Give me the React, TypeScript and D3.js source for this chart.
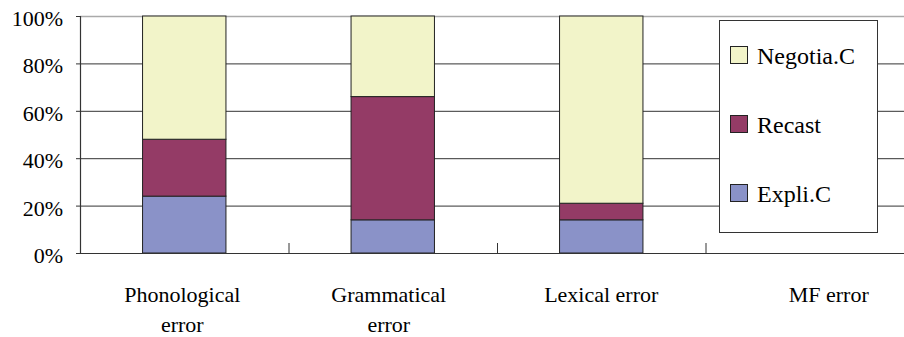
import React from "react";
import * as d3 from "d3";

const categories = ["Phonological error", "Grammatical error", "Lexical error", "MF error"];
const categoryLines = [["Phonological", "error"], ["Grammatical", "error"], ["Lexical error"], ["MF error"]];
const expliC = [24, 14, 14, 0];
const recast = [24, 52, 7, 0];
const negotiaC = [52, 34, 79, 0];
const seriesNames = ["Expli.C", "Recast", "Negotia.C"];
const seriesColors = ["#8A92C8", "#943B66", "#F2F4C9"];
const yTicks = [0, 20, 40, 60, 80, 100];

const W = 904;
const H = 337;
const left = 80;
const top = 16;
const bottom = 253;
const right = 914;

export default function App() {
  const x = d3.scaleBand().domain(categories).range([left, right]).padding(0);
  const y = d3.scaleLinear().domain([0, 100]).range([bottom, top]);
  const rows = categories.map((c, i) => ({ cat: c, e: expliC[i], r: recast[i], n: negotiaC[i] }));
  const stack = d3.stack<any>().keys(["e", "r", "n"])(rows);
  const bw = x.bandwidth();
  const barW = bw * 0.4;
  const legendOrder = [2, 1, 0];
  const legendY = [55, 124, 193];
  const xLabelOffset = [-2, -4, 0, 19];

  return (
    <svg width={W} height={H} style={{ position: "absolute", left: 0, top: 0 }}>
      <rect x={0} y={0} width={W} height={H} fill="#ffffff" />
      {yTicks.filter((t) => t > 0 && t < 100).map((t) => (
        <line key={t} x1={left} x2={right} y1={y(t) + 0.5} y2={y(t) + 0.5} stroke="#333" strokeWidth={1} />
      ))}
      <line x1={left} x2={right} y1={y(100) + 0.5} y2={y(100) + 0.5} stroke="#aaa" strokeWidth={1.5} />
      {stack.map((s, si) =>
        s.map((d, i) =>
          d[1] - d[0] > 0 ? (
            <rect
              key={si + "-" + i}
              x={(x(categories[i]) as number) + bw / 2 - barW / 2}
              y={y(d[1])}
              width={barW}
              height={y(d[0]) - y(d[1])}
              fill={seriesColors[si]}
              stroke="#222"
              strokeWidth={1}
            />
          ) : null
        )
      )}
      <line x1={left + 0.5} x2={left + 0.5} y1={top} y2={bottom} stroke="#333" strokeWidth={1.2} />
      <line x1={left} x2={right} y1={bottom + 0.5} y2={bottom + 0.5} stroke="#333" strokeWidth={1.2} />
      {yTicks.map((t) => (
        <line key={"tk" + t} x1={left - 4} x2={left} y1={y(t) + 0.5} y2={y(t) + 0.5} stroke="#333" />
      ))}
      {yTicks.map((t) => (
        <text key={"yl" + t} x={63} y={y(t) + 10} textAnchor="end" fontSize={22} style={{ fontFamily: '"Liberation Serif"' }}>
          {t + "%"}
        </text>
      ))}
      {categories.slice(1).map((c) => (
        <line key={c} x1={(x(c) as number) + 0.5} x2={(x(c) as number) + 0.5} y1={bottom - 10} y2={bottom} stroke="#333" />
      ))}
      {categories.map((c, i) =>
        categoryLines[i].map((ln, j) => (
          <text
            key={c + j}
            x={(x(c) as number) + bw / 2 + xLabelOffset[i]}
            y={302 + j * 30}
            textAnchor="middle"
            fontSize={22}
            style={{ fontFamily: '"Liberation Serif"' }}
          >
            {ln}
          </text>
        ))
      )}
      <rect x={719.5} y={20.5} width={158} height={212} fill="#fff" stroke="#333" strokeWidth={1} />
      {legendOrder.map((si, k) => (
        <rect key={"lr" + si} x={730.5} y={legendY[k] - 8.5} width={17} height={17} fill={seriesColors[si]} stroke="#222" />
      ))}
      {legendOrder.map((si, k) => (
        <text key={"lt" + si} x={757} y={legendY[k] + 9} fontSize={24} style={{ fontFamily: '"Liberation Serif"' }}>
          {seriesNames[si]}
        </text>
      ))}
    </svg>
  );
}
